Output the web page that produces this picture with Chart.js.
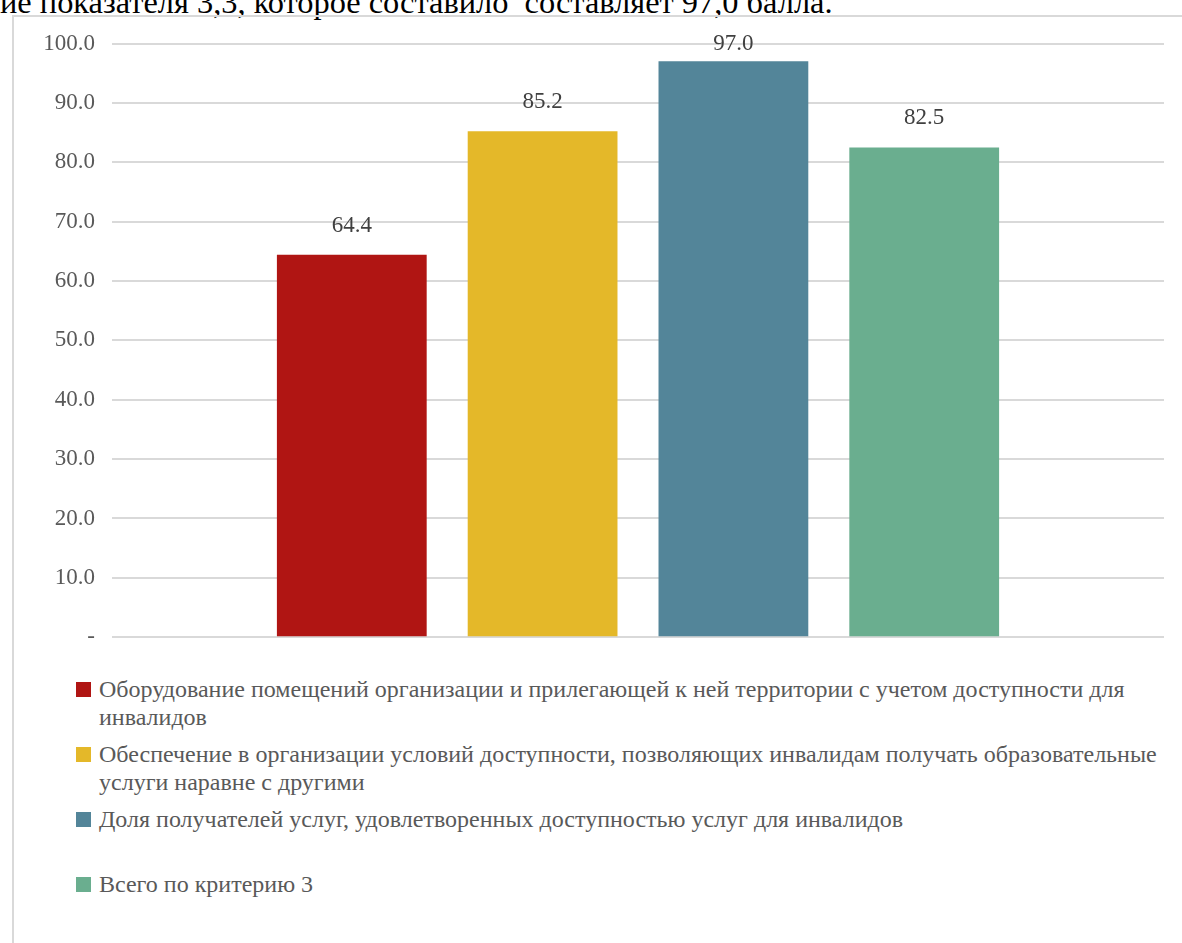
<!DOCTYPE html>
<html lang="ru">
<head>
<meta charset="utf-8">
<title>Критерий 3</title>
<script src="https://cdn.jsdelivr.net/npm/chart.js@4.4.1/dist/chart.umd.min.js"></script>
<style>
    html, body {
        margin: 0;
        padding: 0;
        background: #ffffff;
        width: 1182px;
        height: 943px;
        overflow: hidden;
        position: relative;
        font-family: "Liberation Serif", "DejaVu Serif", serif;
    }
    #page-text {
        position: absolute;
        left: 0;
        top: -14px;
        font-size: 32.4px;
        line-height: 1;
        color: #000000;
        white-space: pre;
    }
    #frame {
        position: absolute;
        left: 12px;
        top: 15px;
        width: 1200px;
        height: 960px;
        border-left: 2px solid #d9d9d9;
        border-top: 2px solid #d9d9d9;
    }
    #chart-area {
        position: absolute;
        left: 0;
        top: 0;
    }
    #legend {
        position: absolute;
        left: 76px;
        top: 675px;
        width: 1110px;
        margin: 0;
        padding: 0;
        list-style: none;
    }
    #legend li {
        display: flex;
        align-items: flex-start;
        min-height: 56px;
        margin-bottom: 9px;
        font-size: 24px;
        line-height: 28px;
        color: #595959;
    }
    #legend li span.box {
        flex: 0 0 15px;
        width: 15px;
        height: 15px;
        margin-top: 7px;
        margin-right: 8px;
    }
</style>
</head>
<body>
<div id="page-text">ие показателя 3,3, которое составило  составляет 97,0 балла.</div>
<div id="frame"></div>
<canvas id="chart-area" width="1182" height="668"></canvas>
<ul id="legend"></ul>
<script>
// значения показателей критерия 3
const seriesLabels = [
    "Оборудование помещений организации и прилегающей к ней территории с учетом доступности для инвалидов",
    "Обеспечение в организации условий доступности, позволяющих инвалидам получать образовательные услуги наравне с другими",
    "Доля получателей услуг, удовлетворенных доступностью услуг для инвалидов",
    "Всего по критерию 3"
];
const seriesValues = [64.4, 85.2, 97.0, 82.5];
const seriesColors = ["#B01513", "#E4B829", "#538599", "#6AAE8F"];
const categories = [""];
const yMin = 0;
const yMax = 100;
const yStep = 10;

const serif = "'Liberation Serif', 'DejaVu Serif', serif";

// подписи значений над столбцами
const valueLabels = {
    id: 'valueLabels',
    afterDatasetsDraw(chart) {
        const ctx = chart.ctx;
        ctx.save();
        ctx.font = "23px " + serif;
        ctx.fillStyle = "#404040";
        ctx.textAlign = "center";
        ctx.textBaseline = "middle";
        chart.data.datasets.forEach(function(ds, i) {
            const meta = chart.getDatasetMeta(i);
            meta.data.forEach(function(bar, j) {
                const y = Math.max(bar.y - 29, chart.chartArea.top);
                ctx.fillText(ds.data[j].toFixed(1), bar.x, y);
            });
        });
        ctx.restore();
    }
};

// легенда вынесена в html, чтобы длинные подписи переносились
const htmlLegend = {
    id: 'htmlLegend',
    afterUpdate(chart) {
        const ul = document.getElementById('legend');
        ul.innerHTML = '';
        chart.data.datasets.forEach(function(ds) {
            const li = document.createElement('li');
            const box = document.createElement('span');
            box.className = 'box';
            box.style.background = ds.backgroundColor;
            const text = document.createElement('span');
            text.textContent = ds.label;
            li.appendChild(box);
            li.appendChild(text);
            ul.appendChild(li);
        });
    }
};

const datasets = seriesLabels.map(function(label, i) {
    return {
        label: label,
        data: [seriesValues[i]],
        backgroundColor: seriesColors[i],
        borderWidth: 0,
        categoryPercentage: 0.7255,
        barPercentage: 0.785
    };
});

const config = {
    type: 'bar',
    data: {
        labels: categories,
        datasets: datasets
    },
    options: {
        responsive: false,
        animation: false,
        layout: {
            padding: { top: 43.5, right: 18, bottom: 24, left: 0 }
        },
        plugins: {
            legend: { display: false },
            tooltip: { enabled: false }
        },
        scales: {
            x: {
                display: false
            },
            y: {
                min: yMin,
                max: yMax,
                border: { display: false },
                grid: {
                    color: "#d9d9d9",
                    lineWidth: 2,
                    drawTicks: false
                },
                ticks: {
                    stepSize: yStep,
                    padding: 17,
                    color: "#595959",
                    font: { family: serif, size: 23 },
                    callback: function(v) {
                        return v === 0 ? '-' : v.toFixed(1);
                    }
                },
                afterFit: function(scale) {
                    scale.width = 112;
                }
            }
        }
    },
    plugins: [valueLabels, htmlLegend]
};

const canvas = document.getElementById('chart-area');
const chart = new Chart(canvas, config);
</script>
</body>
</html>
